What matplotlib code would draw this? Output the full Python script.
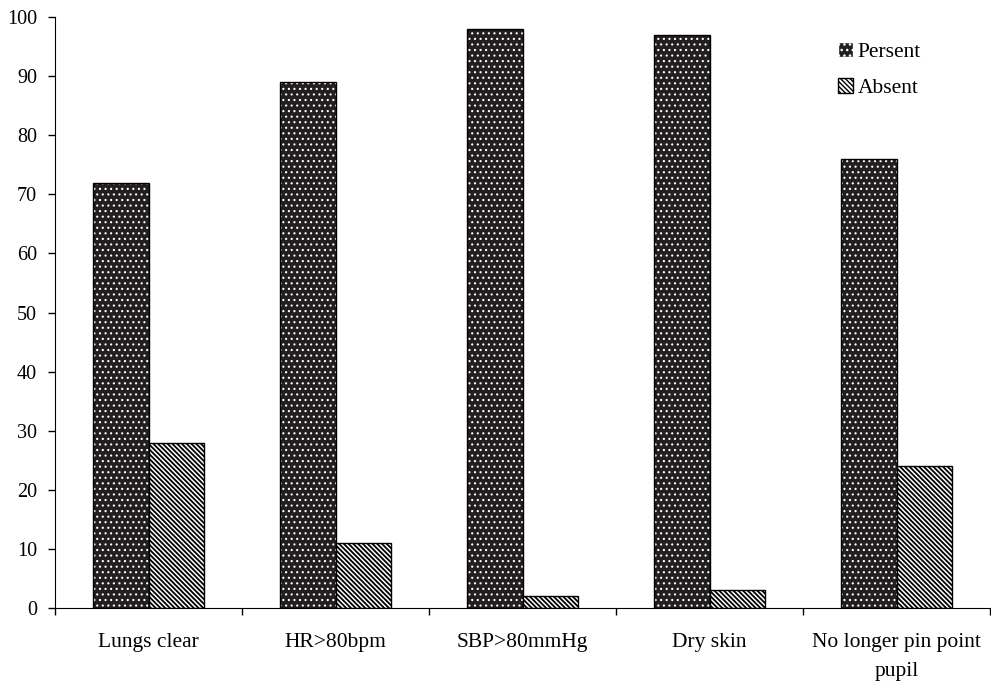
import matplotlib.pyplot as plt
import numpy as np

plt.rcParams['font.family'] = ['Liberation Serif', 'DejaVu Serif']

# signs of recovery, percent of patients
signes = ['Lungs clear', 'HR>80bpm', 'SBP>80mmHg', 'Dry skin', 'No longer pin point\npupil']
present = [72, 89, 98, 97, 76]
absent = [28, 11, 2, 3, 24]

x = np.arange(len(signes))
w = 0.295
dots = '...'
stripes = '\\' * 7

fig = plt.figure(figsize=(9.91, 6.84), dpi=100)
ax = fig.add_axes([0.0555, 0.111, 0.9435, 0.864])

# dark bars with white dots: fill + hatch, then black outline on top
with plt.rc_context({'hatch.linewidth': 0.8}):
    ax.bar(x - w/2, present, w, color='#231f20', edgecolor='white', hatch=dots, linewidth=0)
    p1 = plt.Rectangle((0, 0), 1, 1, facecolor='#231f20', edgecolor='white', hatch=dots)
ax.bar(x - w/2, present, w, fill=False, edgecolor='black', linewidth=1)
with plt.rc_context({'hatch.linewidth': 1.3}):
    ax.bar(x + w/2, absent, w, color='white', edgecolor='black', hatch=stripes, linewidth=1)
    p2 = plt.Rectangle((0, 0), 1, 1, facecolor='white', edgecolor='black', hatch=stripes)

fig.legend([p1, p2], ['Persent', 'Absent'], loc='upper left',
           bbox_to_anchor=(838/991, 1 - 42/684), borderaxespad=0, borderpad=0,
           frameon=False, fontsize=15.5, handlelength=0.7, handleheight=0.7,
           handletextpad=0.2, labelspacing=0.72)

ax.set_xlim(-0.5, 4.5)
ax.set_ylim(0, 100)
ax.set_yticks(range(0, 101, 10))
ax.set_xticks(x)
ax.set_xticklabels(signes, fontsize=15.5, linespacing=1.7)
ax.set_xticks(np.arange(-0.5, 5, 1), minor=True)
ax.tick_params(axis='x', which='major', length=0, pad=18)
ax.tick_params(axis='x', which='minor', length=5, direction='out', width=1)
ax.tick_params(axis='y', length=5, direction='out', width=1, labelsize=14.5, pad=8)

for s in ['top', 'right']:
    ax.spines[s].set_visible(False)

fig.savefig('out.png', dpi=100)
